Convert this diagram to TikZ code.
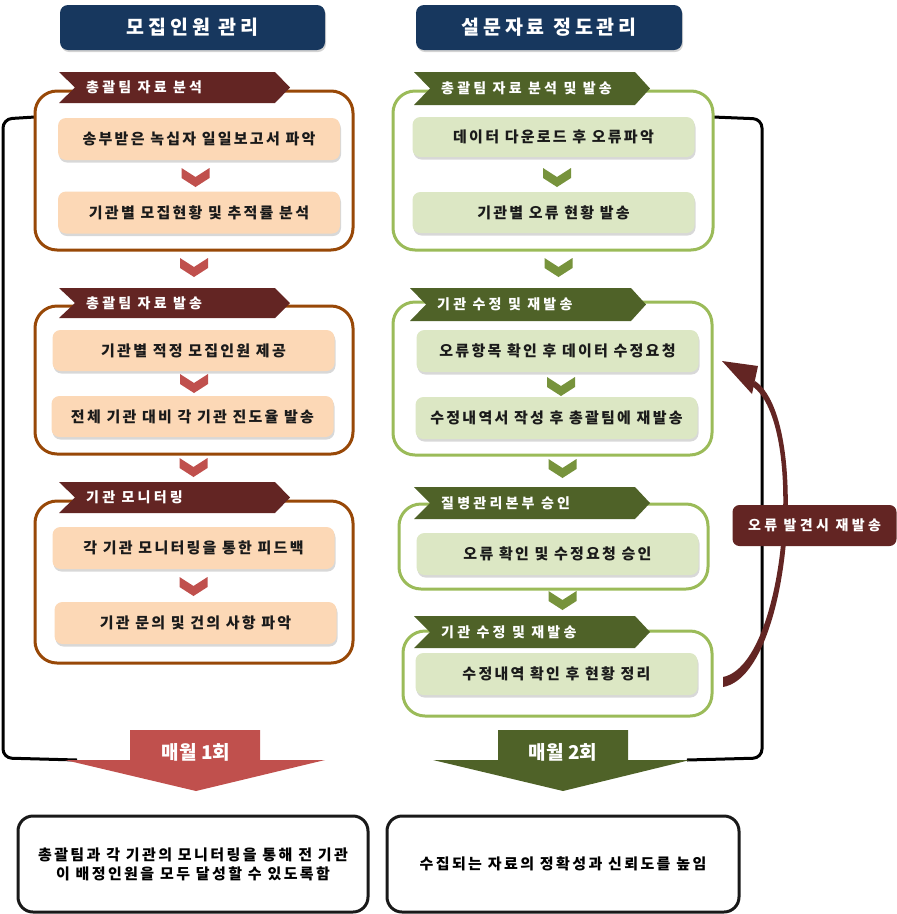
\documentclass[tikz,border=0pt]{standalone}
\usepackage{fontspec}
\setmainfont{Noto Sans CJK KR}[LetterSpace=12]
\newfontfamily\plainfont{Noto Sans CJK KR}
\usetikzlibrary{shadows}
\definecolor{navy}{HTML}{17375E}
\definecolor{bannerred}{HTML}{632523}
\definecolor{brownline}{HTML}{984807}
\definecolor{peach}{HTML}{FCD8B6}
\definecolor{chevred}{HTML}{C0504D}
\definecolor{bannergreen}{HTML}{4F6228}
\definecolor{greenline}{HTML}{9BBB59}
\definecolor{lightgreen}{HTML}{DCE7C4}
\definecolor{chevgreen}{HTML}{77933C}
\definecolor{txt}{HTML}{1A1A1A}
\newcommand\mybanner[7]{%
  \fill[#6] (#2,#3) -- ({#4-15},#3) -- (#4,{(#3+#5)/2}) -- ({#4-15},#5) -- (#2,#5) -- ({#2+16},{(#3+#5)/2}) -- cycle;
  \node[bannertext] (#1) at ({#2+27},{(#3+#5)/2}) {#7};}
\newcommand\mychev[3]{%
  \fill[#3] ({#1-14},#2) -- (#1,{#2+9}) -- ({#1+14},#2) -- ({#1+14},{#2+10}) -- (#1,{#2+19}) -- ({#1-14},{#2+10}) -- cycle;}
\begin{document}
\begin{tikzpicture}[x=1pt,y=-1pt,
  titlebox/.style={rectangle, rounded corners=8pt, fill=navy, text=white, minimum width=265pt, minimum height=45pt, font=\fontsize{19.5}{22}\selectfont\bfseries\addfontfeatures{LetterSpace=20}, drop shadow={shadow xshift=1pt, shadow yshift=-2pt, opacity=0.35}},
  bannertext/.style={anchor=west, text=white, inner sep=0pt, font=\fontsize{14}{16}\selectfont\bfseries\addfontfeatures{LetterSpace=23}},
  outerL/.style={draw=brownline, line width=3pt, rounded corners=22pt},
  outerR/.style={draw=greenline, line width=3pt, rounded corners=22pt},
  innerbase/.style={rectangle, rounded corners=8pt, minimum width=282pt, minimum height=42pt, text=txt, font=\fontsize{15}{18}\selectfont\bfseries\addfontfeatures{LetterSpace=15}, drop shadow={shadow xshift=1pt, shadow yshift=-2.5pt, opacity=0.3}},
  innerL/.style={innerbase, fill=peach},
  innerR/.style={innerbase, fill=lightgreen},
  bracket/.style={draw=black, line width=3pt, rounded corners=9pt},
  resultbox/.style={draw=black!90, line width=3pt, rounded corners=15pt, fill=white, align=center, text=black, font=\fontsize{15}{19}\selectfont\bfseries\addfontfeatures{LetterSpace=16}},
  bigtext/.style={text=white, font=\plainfont\fontsize{19}{21}\selectfont\bfseries},
]
\useasboundingbox (0,0) rectangle (897,914);

% brackets
\draw[bracket] (35,117) -- (3,119) -- (3,758) -- (77,760);
\draw[bracket] (713,117) -- (762,119) -- (762,758) -- (687,760);

% titles
\node[titlebox] (t1) at (192.5,27.5) {모집인원 관리};
\node[titlebox, minimum width=266pt] (t2) at (549,27.5) {설문자료 정도관리};

% ---------- left column ----------
\fill[white] (35,91) rectangle (353,250);
\draw[outerL] (35,91) rectangle (353,250);
\mybanner{b1}{59}{72}{290}{103}{bannerred}{총괄팀 자료 분석}
\node[innerL] (l1a) at (199,139) {송부받은 녹십자 일일보고서 파악};
\mychev{195.5}{168}{chevred}
\node[innerL] (l1b) at (199,212.5) {기관별 모집현황 및 추적률 분석};

\mychev{194}{258}{chevred}

\fill[white] (35,306) rectangle (353,454);
\draw[outerL] (35,306) rectangle (353,454);
\mybanner{b2}{59}{288}{290}{318}{bannerred}{총괄팀 자료 발송}
\node[innerL, minimum height=41pt] (l2a) at (193.5,350.5) {기관별 적정 모집인원 제공};
\mychev{194}{374}{chevred}
\node[innerL, minimum height=41pt] (l2b) at (192.5,416.5) {전체 기관 대비 각 기관 진도율 발송};

\mychev{193.5}{458}{chevred}

\fill[white] (35,501) rectangle (353,663);
\draw[outerL] (35,501) rectangle (353,663);
\mybanner{b3}{59}{482}{290}{513}{bannerred}{기관 모니터링}
\node[innerL] (l3a) at (193.5,548) {각 기관 모니터링을 통한 피드백};
\mychev{193.5}{577}{chevred}
\node[innerL] (l3b) at (195.5,623) {기관 문의 및 건의 사항 파악};

% ---------- right column ----------
\fill[white] (393,91) rectangle (713,250);
\draw[outerR] (393,91) rectangle (713,250);
\mybanner{r1}{414}{72}{650}{105}{bannergreen}{총괄팀 자료 분석 및 발송}
\node[innerR, minimum height=40pt] (r1a) at (553.5,137) {데이터 다운로드 후 오류파악};
\mychev{557}{168}{chevgreen}
\node[innerR, minimum height=41pt] (r1b) at (553.5,212.5) {기관별 오류 현황 발송};

\mychev{558.5}{258}{chevgreen}

\fill[white] (393,302) rectangle (712,455);
\draw[outerR] (393,302) rectangle (712,455);
\mybanner{r2}{410}{288}{646}{321}{bannergreen}{기관 수정 및 재발송}
\node[innerR] (r2a) at (557.5,351) {오류항목 확인 후 데이터 수정요청};
\mychev{561}{377}{chevgreen}
\node[innerR] (r2b) at (556.5,418) {수정내역서 작성 후 총괄팀에 재발송};

\mychev{562.5}{459}{chevgreen}

\fill[white] (399,504) rectangle (708,589);
\draw[outerR] (399,504) rectangle (708,589);
\mybanner{r3}{414}{487}{650}{519}{bannergreen}{질병관리본부 승인}
\node[innerR] (r3a) at (557.5,554) {오류 확인 및 수정요청 승인};

\mychev{562.5}{591}{chevgreen}

\fill[white] (403,631) rectangle (712,716);
\draw[outerR] (403,631) rectangle (712,716);
\mybanner{r4}{414}{616}{650}{648}{bannergreen}{기관 수정 및 재발송}
\node[innerR] (r4a) at (556.5,674) {수정내역 확인 후 현황 정리};

% ---------- big arrows ----------
\fill[chevred] (130,730) -- (260,730) -- (260,760) -- (325,760) -- (196,791) -- (65,760) -- (130,760) -- cycle;
\node[bigtext] (m1) at (196,752) {매월 1회};
\fill[bannergreen] (498,730) -- (628,730) -- (628,760) -- (690,760) -- (563,791) -- (433,760) -- (498,760) -- cycle;
\node[bigtext] (m2) at (563,752) {매월 2회};

% ---------- results ----------
\node[resultbox, minimum width=350pt, minimum height=96pt] (res1) at (193,864) {총괄팀과 각 기관의 모니터링을 통해 전 기관\\이 배정인원을 모두 달성할 수 있도록함};
\node[resultbox, minimum width=352pt, minimum height=96pt] (res2) at (563,864) {수집되는 자료의 정확성과 신뢰도를 높임};

% ---------- feedback arrow ----------
\fill[bannerred] (723,677) .. controls (786,664) and (806,423) .. (752,386)
  -- (755,381) .. controls (811,418) and (792,675) .. (723,687) -- cycle;
\fill[bannerred] (722,361) -- (758,366) -- (752,394) -- cycle;
\node[rectangle, rounded corners=7pt, fill=bannerred, text=white, minimum width=164pt, minimum height=41pt, font=\fontsize{14}{16}\selectfont\bfseries\addfontfeatures{LetterSpace=24}] (fb) at (814.5,525.5) {오류 발견시 재발송};
\end{tikzpicture}
\end{document}
